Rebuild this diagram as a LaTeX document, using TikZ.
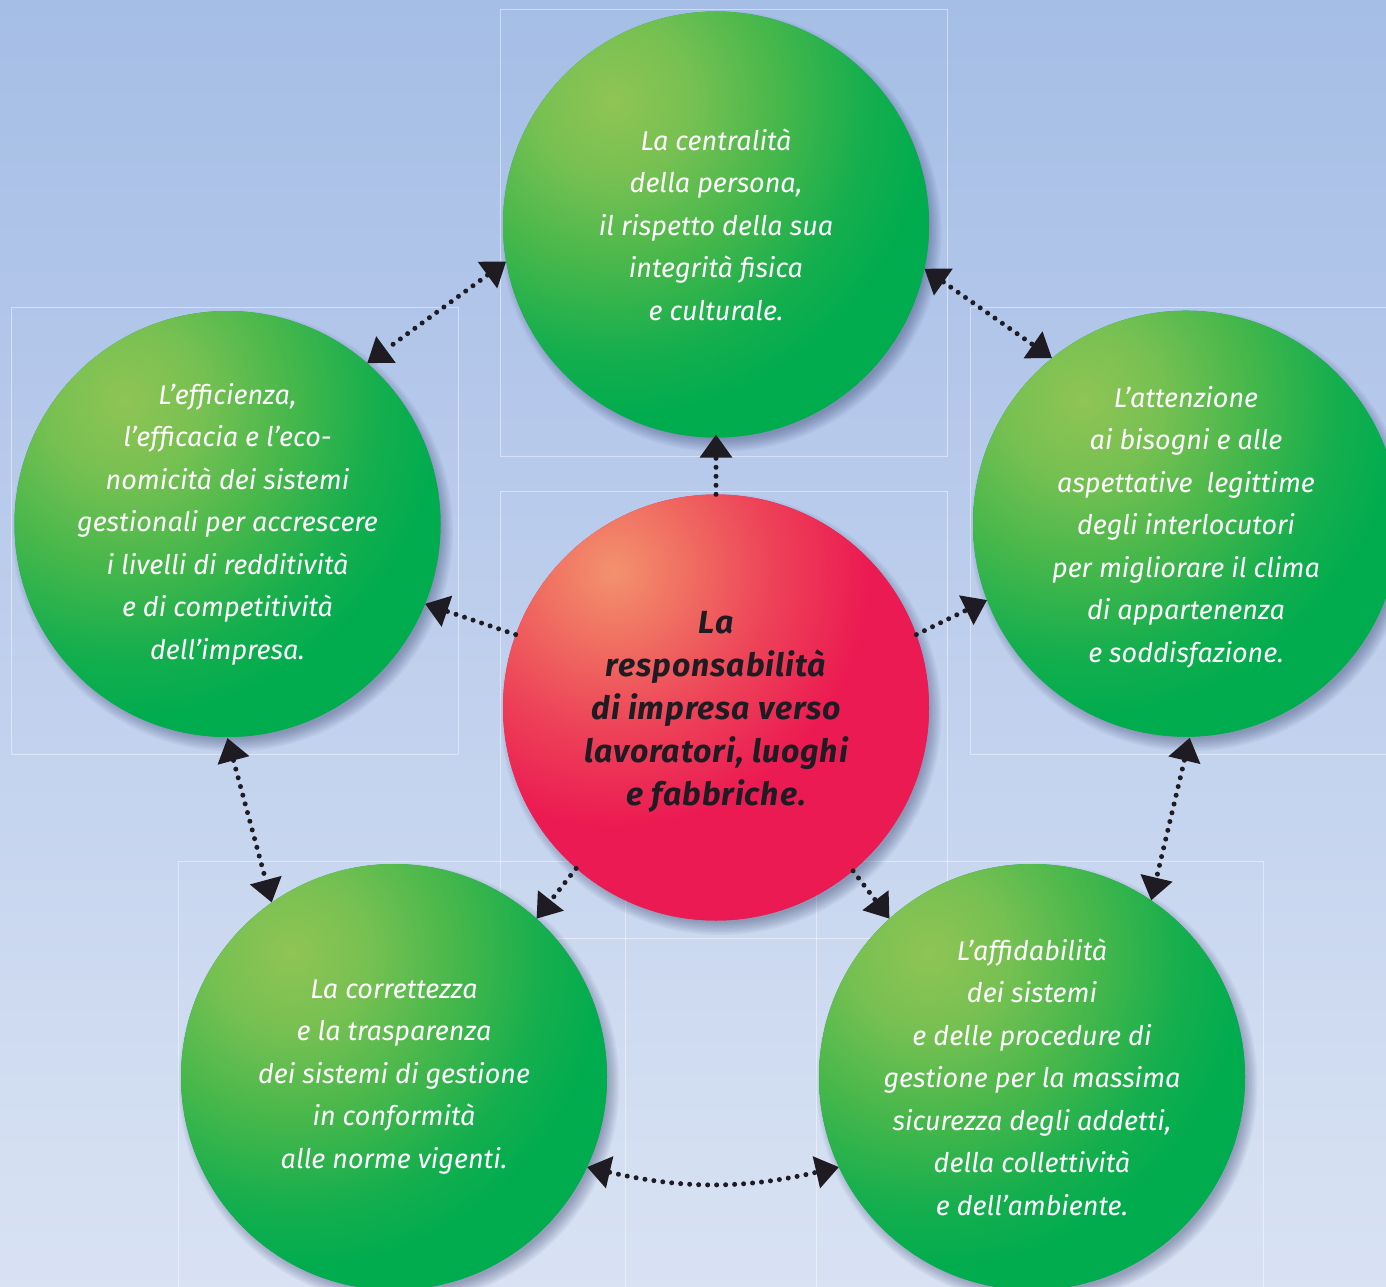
\documentclass[tikz,border=0pt]{standalone}
\usepackage{fontspec}
\setmainfont{Fira Sans}
\newfontfamily\bubblefont{Fira Sans}
\newfontfamily\corefont[LetterSpace=3]{Fira Sans}
\usetikzlibrary{arrows.meta}

% palette
\definecolor{bgtop}{RGB}{141,175,220}
\definecolor{bgmid}{RGB}{178,198,234}
\definecolor{bglow}{RGB}{212,223,242}
\definecolor{bgbot}{RGB}{234,239,248}
\definecolor{greenhl}{RGB}{143,197,84}
\definecolor{greenlt}{RGB}{118,192,82}
\definecolor{greenmid}{RGB}{70,183,75}
\definecolor{greendk}{RGB}{20,174,78}
\definecolor{greenout}{RGB}{0,172,78}
\definecolor{redhl}{RGB}{243,146,109}
\definecolor{redlt}{RGB}{240,112,98}
\definecolor{redmid}{RGB}{237,66,88}
\definecolor{redout}{RGB}{236,26,82}
\definecolor{ink}{RGB}{30,28,34}
\definecolor{shadowcol}{RGB}{40,52,96}

% shadings: sky backdrop and the glow of each bubble (25bp = 400pt once drawn)
\pgfdeclareverticalshading{skyfade}{100bp}{color(0bp)=(bgbot); color(30bp)=(bglow); color(62bp)=(bgmid); color(100bp)=(bgtop)}
\pgfdeclareradialshading{greenglow}{\pgfpoint{0bp}{0bp}}{color(0bp)=(greenhl); color(5bp)=(greenlt); color(10.5bp)=(greenmid); color(16bp)=(greendk); color(20bp)=(greenout); color(50bp)=(greenout)}
\pgfdeclareradialshading{redglow}{\pgfpoint{0bp}{0bp}}{color(0bp)=(redhl); color(4.4bp)=(redlt); color(10bp)=(redmid); color(16bp)=(redout); color(50bp)=(redout)}

\tikzset{
  bubble/.style={circle, minimum size=426pt, inner sep=0pt, align=center},
  greenbubble/.style={bubble, fill=greenout, text=white,
    path picture={\shade[shading=greenglow]
      ([xshift=-103pt,yshift=124pt]path picture bounding box.center) circle[radius=400pt];},
    font=\bubblefont\itshape\fontsize{27}{42.5}\selectfont},
  redbubble/.style={bubble, fill=redout, text=ink,
    path picture={\shade[shading=redglow]
      ([xshift=-103pt,yshift=137pt]path picture bounding box.center) circle[radius=400pt];},
    font=\corefont\bfseries\itshape\fontsize{32}{43}\selectfont},
  framebox/.style={draw=white, draw opacity=0.45, line width=0.7pt},
  dotline/.style={draw=ink, line width=5pt, line cap=round, dash pattern=on 0pt off 9pt},
  >={Triangle[length=23pt,width=33pt,line width=0pt]},
}

\begin{document}
\begin{tikzpicture}[x=1pt,y=-1pt]
\clip (0,0) rectangle (1386,1287);
\shade[shading=skyfade] (0,0) rectangle (1386,1287);

% faint frames around the bubbles
\draw[framebox] (500.5,9.5) rectangle (947.5,456);
\draw[framebox] (11.5,307) rectangle (458,754);
\draw[framebox] (500.5,491.5) rectangle (947.5,938.5);
\draw[framebox] (970,307) rectangle (1417,754);
\draw[framebox] (178,861) rectangle (625.5,1308);
\draw[framebox] (816.5,861) rectangle (1263.5,1308);

% bubble centres
\coordinate (pT) at (716,224.5);
\coordinate (pL) at (227.5,524);
\coordinate (pR) at (1186,523.7);
\coordinate (pBL) at (394,1077);
\coordinate (pBR) at (1032,1077);
\coordinate (pC) at (716,707.5);

% soft shadows, falling to the lower right
\foreach \p in {pT,pL,pR,pBL,pBR,pC}
  \foreach \k in {0,...,9}
    \fill[shadowcol, opacity=0.045] ([shift={(5,7)}]\p) circle[radius={(208+1.4*\k)*1pt}];

% bubbles
\node[greenbubble] (T) at (pT) {La centralità\\della persona,\\il rispetto della sua\\integrità fisica\\e culturale.};
\node[greenbubble] (L) at (pL) {L’efficienza,\\l’efficacia e l’eco-\\nomicità dei sistemi\\gestionali per accrescere\\i livelli di redditività\\e di competitività\\dell’impresa.};
\node[greenbubble] (R) at (pR) {\rule{0pt}{28pt}L’attenzione\\ai bisogni e alle\\aspettative\ \ legittime\\degli interlocutori\\per migliorare il clima\\di appartenenza\\e soddisfazione.};
\node[greenbubble] (BL) at (pBL) {La correttezza\\e la trasparenza\\dei sistemi di gestione\\in conformità\\alle norme vigenti.};
\node[greenbubble] (BR) at (pBR) {L’affidabilità\\dei sistemi\\e delle procedure di\\gestione per la massima\\sicurezza degli addetti,\\della collettività\\e dell’ambiente.};
\node[redbubble] (C) at (pC) {\rule{0pt}{31pt}La\\responsabilità\\di impresa verso\\lavoratori, luoghi\\e fabbriche.};

% links from the centre
\draw[dotline,->] (C.90) -- ([yshift=3pt]T.-90);
\draw[dotline,->] (C.160.7) -- (L.-22.3);
\draw[dotline,->] (C.20.5) -- (R.201.9);
\draw[dotline,->] (C.229) -- (BL.48.2);
\draw[dotline,->] (C.-50.6) -- (BR.132.1);

% links around the ring
\draw[dotline,<->] (T.190.3) -- (L.49.6);
\draw[dotline,<->] (T.-12.3) -- (R.129.4);
\draw[dotline,<->] ([yshift=-1pt]L.-90) -- (BL.125.5);
\draw[dotline,<->] ([yshift=-1pt]R.-89) -- (BR.56.6);
\draw[dotline,<->] (BL.-25.2) to[bend right=13] (BR.205.1);
\end{tikzpicture}
\end{document}
